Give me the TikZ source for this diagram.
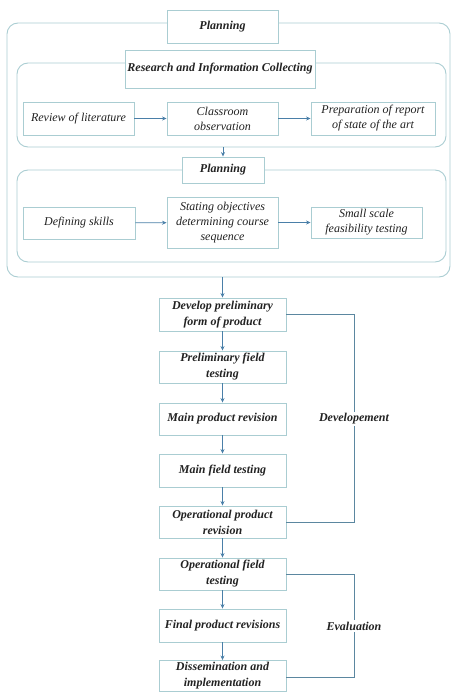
\documentclass[tikz,border=0pt]{standalone}
\usepackage{fontspec}
\setmainfont{Liberation Serif}
\usetikzlibrary{arrows.meta,positioning}
\definecolor{boxline}{HTML}{AACDD2}
\definecolor{arrowcol}{HTML}{4A7FA8}
\definecolor{brackcol}{HTML}{5B87A0}
\definecolor{txt}{HTML}{222222}
\tikzset{
  boxnode/.style={draw=boxline,line width=0.9pt,fill=white,align=center,inner sep=2pt,
    font=\fontsize{12}{15}\selectfont\itshape,text=txt},
  boldbox/.style={boxnode,font=\fontsize{12}{16}\selectfont\bfseries\itshape},
  grpnode/.style={draw=boxline,line width=0.9pt,rounded corners=11pt},
  flowarrow/.style={draw=arrowcol,line width=0.8pt,-{Stealth[length=4.5pt,width=4pt]}},
  bracket/.style={draw=brackcol,line width=0.9pt},
  brlabel/.style={fill=white,inner sep=1.5pt,font=\fontsize{12}{15}\selectfont\bfseries\itshape,text=txt}
}
\begin{document}
\begin{tikzpicture}[x=1pt,y=-1pt]
\useasboundingbox (0,0) rectangle (452,692);
% group frames
\node[grpnode,minimum width=443pt,minimum height=254pt] (outer) at (228.5,150) {};
\node[grpnode,minimum width=429pt,minimum height=84pt] (resgrp) at (231.5,105) {};
\node[grpnode,minimum width=429pt,minimum height=92pt] (plangrp) at (231.5,216) {};
% titles
\node[boldbox,minimum width=111pt,minimum height=33pt] (plan1) at (222.5,26.5) {Planning};
\node[boldbox,minimum width=190pt,minimum height=38pt] (rtitle) at (220,69) {Research and Information Collecting};
\node[boldbox,minimum width=82pt,minimum height=26pt] (plan2) at (223,170) {Planning};
% row 1
\node[boxnode,minimum width=111pt,minimum height=33pt] (rev) at (78.5,118.5) {Review of literature};
\node[boxnode,minimum width=111pt,minimum height=33pt] (cls) at (222.5,118.5) {Classroom\\observation};
\node[boxnode,minimum width=124pt,minimum height=33pt] (prep) at (373,118.5) {Preparation of report\\of state of the art};
% row 2
\node[boxnode,minimum width=112pt,minimum height=32pt] (def) at (79,223) {Defining skills};
\node[boxnode,minimum width=111pt,minimum height=51pt] (stat) at (222.5,222.5) {Stating objectives\\determining course\\sequence};
\node[boxnode,minimum width=111pt,minimum height=31pt] (small) at (366.5,222.5) {Small scale\\feasibility testing};
% lower chain
\node[boldbox,minimum width=127pt,minimum height=33pt] (dev) at (222.5,314.5) {Develop preliminary\\form of product};
\node[boldbox,minimum width=127pt,minimum height=32pt] (pft) at (222.5,367) {Preliminary field\\testing};
\node[boldbox,minimum width=127pt,minimum height=32pt] (mpr) at (222.5,419) {Main product revision};
\node[boldbox,minimum width=127pt,minimum height=33pt] (mft) at (222.5,470.5) {Main field testing};
\node[boldbox,minimum width=127pt,minimum height=32pt] (opr) at (222.5,522) {Operational product\\revision};
\node[boldbox,minimum width=127pt,minimum height=32pt] (oft) at (222.5,574) {Operational field\\testing};
\node[boldbox,minimum width=127pt,minimum height=33pt] (fpr) at (222.5,625.5) {Final product revisions};
\node[boldbox,minimum width=127pt,minimum height=31pt] (dis) at (222.5,676) {Dissemination and\\implementation};
% arrows
\draw[flowarrow] (rev) -- (cls);
\draw[flowarrow] (cls) -- (prep);
\draw[flowarrow] (def) -- (stat);
\draw[flowarrow] (stat) -- (small);
\draw[flowarrow] (plan2.north |- resgrp.south) -- (plan2.north);
\draw[flowarrow] (dev.north |- outer.south) -- (dev.north);
\draw[flowarrow] (dev) -- (pft);
\draw[flowarrow] (pft) -- (mpr);
\draw[flowarrow] (mpr) -- (mft);
\draw[flowarrow] (mft) -- (opr);
\draw[flowarrow] (opr) -- (oft);
\draw[flowarrow] (oft) -- (fpr);
\draw[flowarrow] (fpr) -- (dis);
% brackets
\coordinate (d1) at (354,314.5);
\coordinate (d2) at (354,522);
\draw[bracket] (dev.east) -- (d1) -- (d2) -- (opr.east);
\node[brlabel] (devlab) at (354,419) {Developement};
\coordinate (e1) at (354,574);
\coordinate (e2) at (354,677);
\draw[bracket] (oft.east) -- (e1) -- (e2) -- (dis.east |- e2);
\node[brlabel] (evallab) at (354,626) {Evaluation};
\end{tikzpicture}
\end{document}
